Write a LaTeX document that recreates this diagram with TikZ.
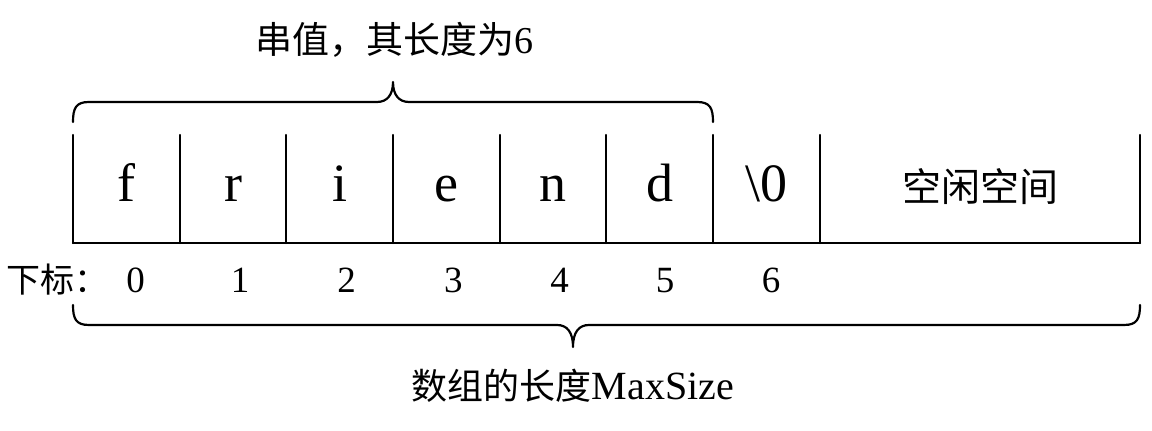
\documentclass[tikz,border=0pt]{standalone}
\usepackage{fontspec}
\setmainfont{Liberation Serif}
\newfontfamily\cjk{Noto Sans CJK SC}
\begin{document}
\begin{tikzpicture}[x=0.5pt,y=-0.5pt,
  cellline/.style={line width=1.1pt, line cap=round},
  bracestyle/.style={line width=1.1pt, line cap=round, line join=round},
  letter/.style={anchor=base, inner sep=0pt, font=\fontsize{27}{30}\selectfont},
  idx/.style={anchor=base, inner sep=0pt, font=\fontsize{18.5}{22}\selectfont},
  cjklabel/.style={anchor=base, inner sep=0pt}]
\useasboundingbox (0,0) rectangle (1152,431);
% cell boundaries
\foreach \i in {0,...,7} {
  \coordinate (t\i) at ({73+\i*106.667},135);
  \coordinate (b\i) at ({73+\i*106.667},243);
}
\coordinate (t8) at (1140,135);
\coordinate (b8) at (1140,243);
\foreach \i in {0,...,8} { \draw[cellline] (t\i) -- (b\i); }
\draw[cellline] (b0) -- (b8);
% letters
\node[letter] (cf) at (126.3,202) {f};
\node[letter] (cr) at (233.0,202) {r};
\node[letter] (ci) at (339.7,202) {i};
\node[letter] (ce) at (446.3,202) {e};
\node[letter] (cn) at (553.0,202) {n};
\node[letter] (cd) at (659.7,202) {d};
\node[letter] (cz) at (766.3,202) {\textbackslash 0};
\node[cjklabel, font=\cjk\fontsize{19.5}{22}\selectfont] (free) at (980,202) {空闲空间};
% indices
\node[cjklabel, anchor=base west, font=\cjk\fontsize{17}{20}\selectfont] (xb) at (6,293) {下标：};
\node[idx] (i0) at (135.5,293) {0};
\node[idx] (i1) at (240.0,293) {1};
\node[idx] (i2) at (346.7,293) {2};
\node[idx] (i3) at (453.3,293) {3};
\node[idx] (i4) at (559.5,293) {4};
\node[idx] (i5) at (665.0,293) {5};
\node[idx] (i6) at (771.0,293) {6};
% top brace
\coordinate (tbl) at (73,122);
\coordinate (tbr) at (713,122);
\coordinate (tbt) at (393,82);
\draw[bracestyle] (tbl) .. controls (73,108) and (76,102) .. (89,102) -- (377,102)
  .. controls (387,102) and (393,95) .. (tbt)
  .. controls (393,95) and (399,102) .. (409,102) -- (697,102)
  .. controls (710,102) and (713,108) .. (tbr);
\node[cjklabel, font=\cjk\fontsize{18.5}{21}\selectfont] (title) at (394,54) {串值，其长度为{\rmfamily\fontsize{19}{21}\selectfont 6}};
% bottom brace
\coordinate (bbl) at (73,305);
\coordinate (bbr) at (1140,305);
\coordinate (bbt) at (573,347);
\draw[bracestyle] (bbl) .. controls (73,319) and (76,325) .. (89,325) -- (557,325)
  .. controls (567,325) and (573,332) .. (bbt)
  .. controls (573,332) and (579,325) .. (589,325) -- (1124,325)
  .. controls (1137,325) and (1140,319) .. (bbr);
\node[cjklabel, font=\cjk\fontsize{18}{21}\selectfont] (len) at (573,400) {数组的长度{\rmfamily\fontsize{20}{23}\selectfont MaxSize}};
\end{tikzpicture}
\end{document}
